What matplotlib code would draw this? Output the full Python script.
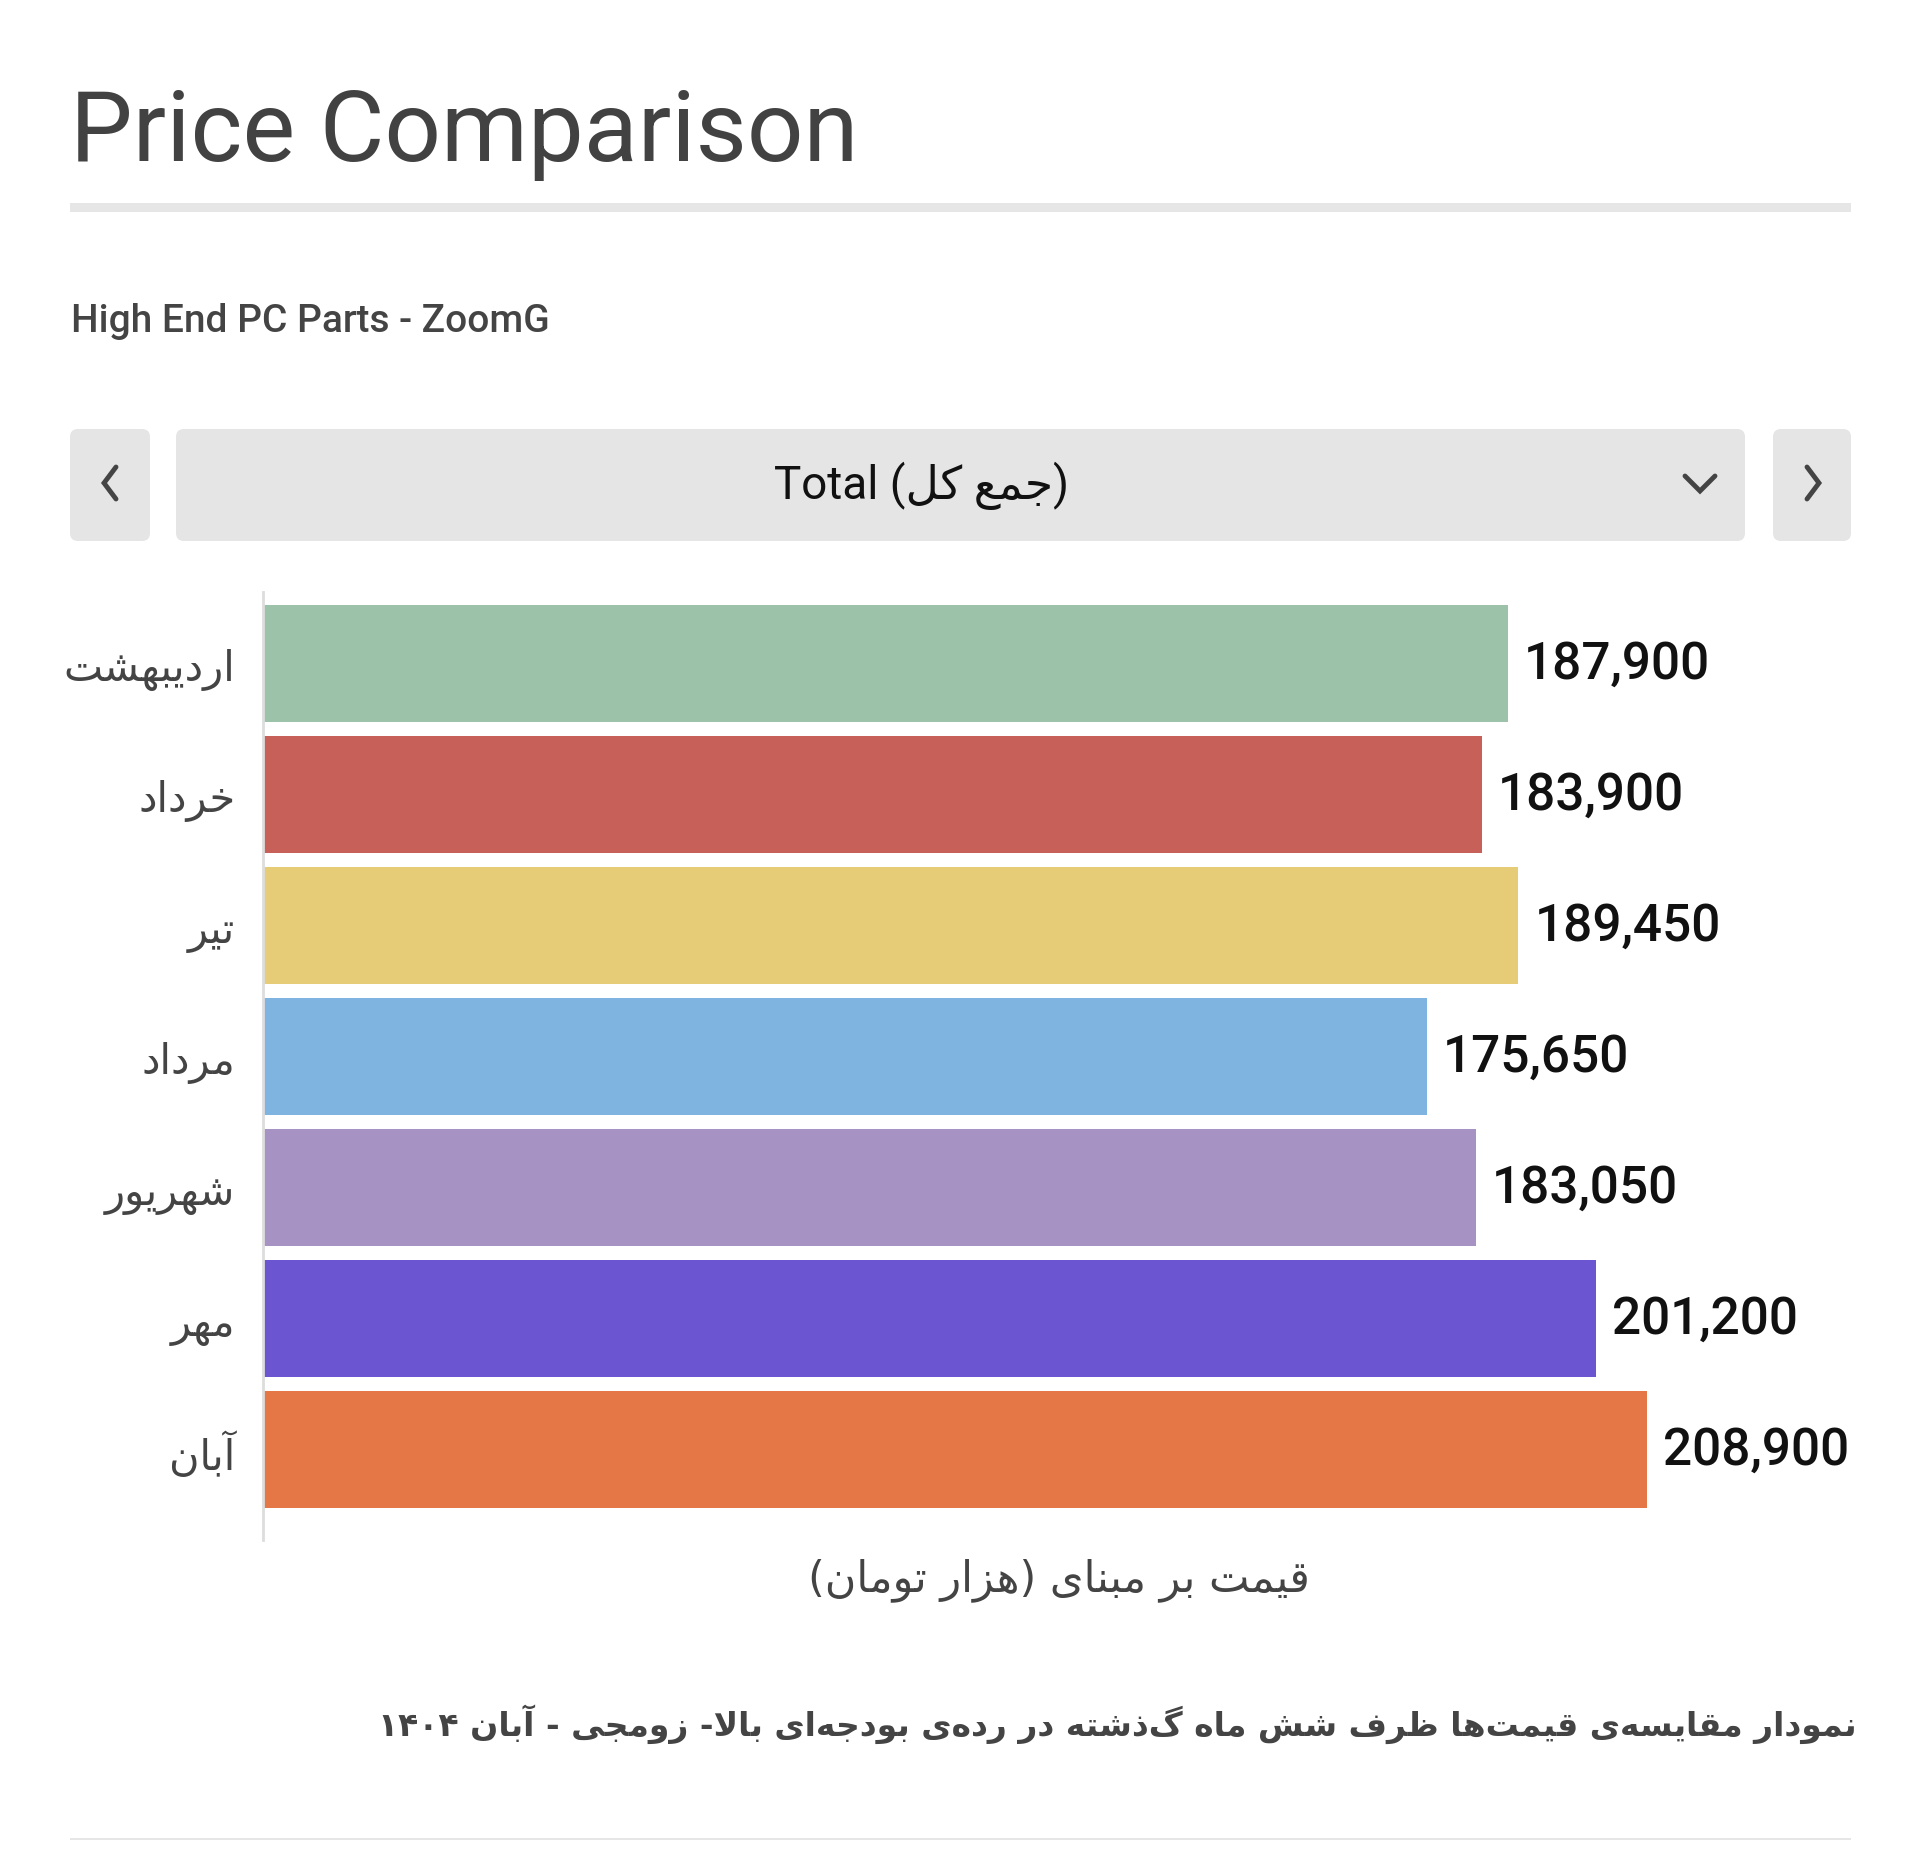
import re
import matplotlib
matplotlib.use('Agg')
import matplotlib.pyplot as plt
from matplotlib.patches import FancyBboxPatch, Rectangle

# chart data
months = ['اردیبهشت', 'خرداد', 'تیر', 'مرداد', 'شهریور', 'مهر', 'آبان']
prices = [187900, 183900, 189450, 175650, 183050, 201200, 208900]
bar_colors = ['#9cc3a9', '#c8605a', '#e6cc77', '#7fb3e0', '#a793c3', '#6b55d1', '#e57746']

title = 'Price Comparison'
subtitle = 'High End PC Parts - ZoomG'
selector_fa = 'جمع کل'
x_label = 'قیمت بر مبنای (هزار تومان)'
caption = ('نمودار مقایسه\u200cی قیمت\u200cها ظرف شش ماه گذشته در رده\u200cی '
           'بودجه\u200cای بالا- زومجی - آبان ۱۴۰۴')

# --- minimal arabic/persian shaping (matplotlib has no bidi / joining) ---
# letter: (isolated, final, initial, medial); None => does not join to the next letter
FORMS = {
    '\u0622': ('\uFE81', '\uFE82', None, None),
    '\u0627': ('\uFE8D', '\uFE8E', None, None),
    '\u0628': ('\uFE8F', '\uFE90', '\uFE91', '\uFE92'),
    '\u062A': ('\uFE95', '\uFE96', '\uFE97', '\uFE98'),
    '\u062C': ('\uFE9D', '\uFE9E', '\uFE9F', '\uFEA0'),
    '\u062E': ('\uFEA5', '\uFEA6', '\uFEA7', '\uFEA8'),
    '\u062F': ('\uFEA9', '\uFEAA', None, None),
    '\u0631': ('\uFEAD', '\uFEAE', None, None),
    '\u0632': ('\uFEAF', '\uFEB0', None, None),
    '\u0633': ('\uFEB1', '\uFEB2', '\uFEB3', '\uFEB4'),
    '\u0634': ('\uFEB5', '\uFEB6', '\uFEB7', '\uFEB8'),
    '\u0638': ('\uFEC5', '\uFEC6', '\uFEC7', '\uFEC8'),
    '\u0639': ('\uFEC9', '\uFECA', '\uFECB', '\uFECC'),
    '\u0641': ('\uFED1', '\uFED2', '\uFED3', '\uFED4'),
    '\u0642': ('\uFED5', '\uFED6', '\uFED7', '\uFED8'),
    '\u0644': ('\uFEDD', '\uFEDE', '\uFEDF', '\uFEE0'),
    '\u0645': ('\uFEE1', '\uFEE2', '\uFEE3', '\uFEE4'),
    '\u0646': ('\uFEE5', '\uFEE6', '\uFEE7', '\uFEE8'),
    '\u0647': ('\uFEE9', '\uFEEA', '\uFEEB', '\uFEEC'),
    '\u0648': ('\uFEED', '\uFEEE', None, None),
    '\u06A9': ('\uFB8E', '\uFB8F', '\uFB90', '\uFB91'),
    '\u06AF': ('\uFB92', '\uFB93', '\uFB94', '\uFB95'),
    '\u06CC': ('\uFBFC', '\uFBFD', '\uFBFE', '\uFBFF'),
}
LAM_ALEF = {'\u0627': ('\uFEFB', '\uFEFC'), '\u0622': ('\uFEF5', '\uFEF6')}


def shape(s):
    out = []
    i = 0
    n = len(s)
    while i < n:
        c = s[i]
        if c not in FORMS:
            if c != '\u200c':
                out.append(c)
            i += 1
            continue
        prev = s[i - 1] if i > 0 else None
        nxt = s[i + 1] if i + 1 < n else None
        jp = prev in FORMS and FORMS[prev][2] is not None
        if c == '\u0644' and nxt in LAM_ALEF:
            out.append(LAM_ALEF[nxt][1 if jp else 0])
            i += 2
            continue
        jn = FORMS[c][2] is not None and nxt in FORMS
        iso, fin, ini, med = FORMS[c]
        out.append(med if (jp and jn) else fin if jp else ini if jn else iso)
        i += 1
    return ''.join(out)


def rtl(s):
    vis = shape(s)[::-1]
    vis = re.sub(r'[0-9\u06F0-\u06F9]+', lambda m: m.group(0)[::-1], vis)
    return vis.translate(str.maketrans('()', ')('))


LATIN = ['Roboto', 'DejaVu Sans']
ARAB = ['DejaVu Sans']
W, H = 1920, 1865

fig = plt.figure(figsize=(W / 100, H / 100), dpi=100)
fig.patch.set_facecolor('white')

# page layer in pixel coordinates
bg = fig.add_axes([0, 0, 1, 1])
bg.set_xlim(0, W)
bg.set_ylim(H, 0)
bg.axis('off')

bg.text(70, 161, title, fontsize=71.5, color='#424242', family=LATIN, va='baseline')
bg.add_patch(Rectangle((70, 204), 1781, 9, color='#e6e6e6', lw=0))
bg.text(71, 332, subtitle, fontsize=28, color='#444444', family=LATIN,
        weight='medium', va='baseline')

# selector bar
for x0, x1 in [(70, 150), (176, 1745), (1773, 1851)]:
    bg.add_patch(FancyBboxPatch((x0 + 8, 438), x1 - x0 - 16, 96,
                                boxstyle='round,pad=8', fc='#e5e5e5', ec='none'))
bg.text(921, 499, f'Total ({rtl(selector_fa)})', fontsize=33, color='#111111',
        family=LATIN, ha='center', va='baseline')
bg.plot([116, 104, 116], [468, 484, 500], color='#444444', lw=3.5,
        solid_capstyle='round', solid_joinstyle='miter')
bg.plot([1807, 1819, 1807], [468, 484, 500], color='#444444', lw=3.5,
        solid_capstyle='round', solid_joinstyle='miter')
bg.plot([1685, 1700, 1715], [477, 492, 477], color='#444444', lw=3.5,
        solid_capstyle='round', solid_joinstyle='miter')

# chart
ax = fig.add_axes([263 / W, 1 - 1541 / H, (1851 - 263) / W, (1541 - 593) / H])
ax.set_facecolor('none')
ypos = list(range(len(months)))
ax.barh(ypos, prices, height=0.893, color=bar_colors)
for y, v in zip(ypos, prices):
    ax.annotate(f'{v:,}', (v, y), xytext=(16, 0), textcoords='offset pixels',
                va='center', ha='left', fontsize=37, weight='medium',
                color='#111111', family=LATIN)
ax.set_xlim(0, 239650)
ax.set_ylim(6.688, -0.546)
ax.set_yticks(ypos)
ax.set_yticklabels([rtl(m) for m in months], family=ARAB, fontsize=30,
                   color='#444444')
ax.tick_params(axis='y', length=0, pad=20)
ax.set_xticks([])
for side in ['top', 'right', 'bottom']:
    ax.spines[side].set_visible(False)
ax.spines['left'].set_color('#dddddd')
ax.spines['left'].set_linewidth(2)

bg.text(1059, 1580, rtl(x_label), fontsize=31, color='#444444', family=ARAB,
        ha='center', va='center')
bg.text(1857, 1724, rtl(caption), fontsize=23.8, color='#444444', family=ARAB,
        weight='bold', ha='right', va='center')
bg.add_patch(Rectangle((70, 1839), 1781, 2, color='#e6e6e6', lw=0))

fig.savefig('out.png', dpi=100, facecolor='white')
